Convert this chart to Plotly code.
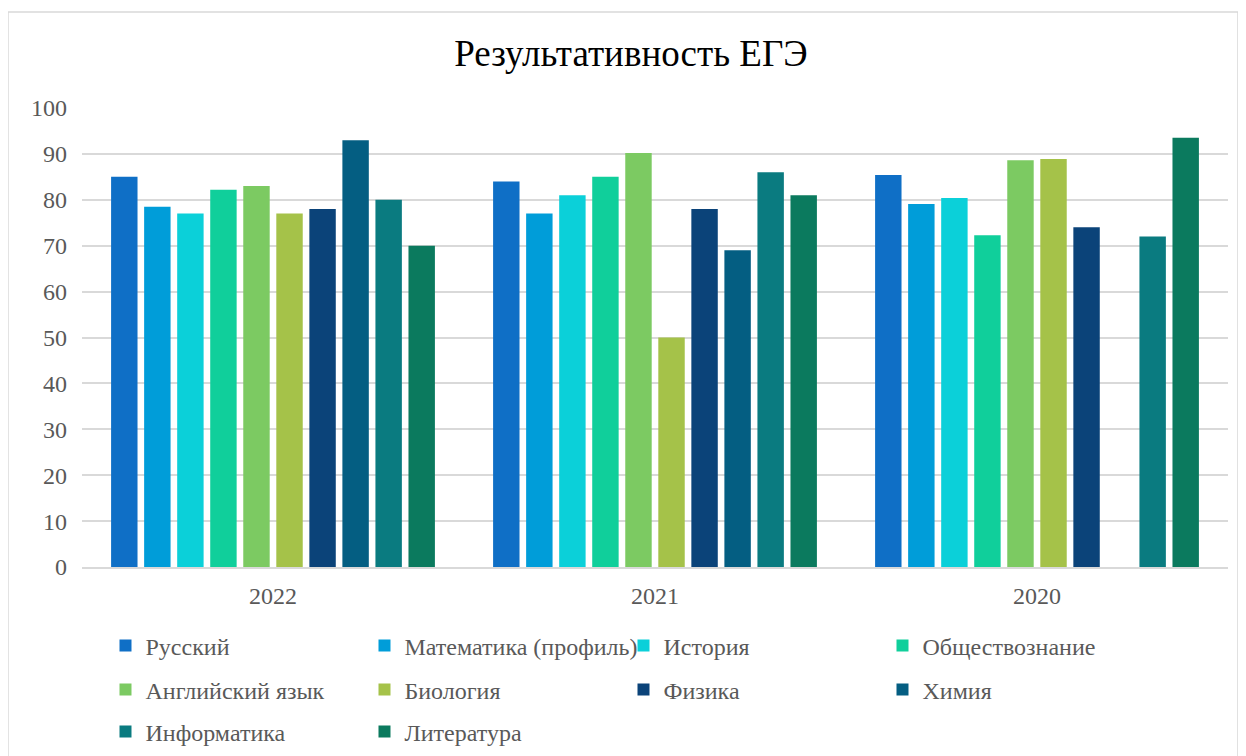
import plotly.graph_objects as go

years = ["2022", "2021", "2020"]
subjects = ["Русский", "Математика (профиль)", "История", "Обществознание",
            "Английский язык", "Биология", "Физика", "Химия",
            "Информатика", "Литература"]

russian = [85, 84, 85.4]
math_profile = [78.5, 77, 79.1]
history = [77, 81, 80.4]
social = [82.2, 85, 72.3]
english = [83, 90.2, 88.6]
biology = [77, 50, 88.9]
physics = [78, 78, 74]
chemistry = [93, 69, None]
informatics = [80, 86, 72]
literature = [70, 81, 93.5]

series = [russian, math_profile, history, social, english,
          biology, physics, chemistry, informatics, literature]

colors = ["#0F6FC6", "#009DD9", "#0BD0D9", "#10CF9B", "#7CCA62",
          "#A5C249", "#0B4379", "#045E82", "#0A7B80", "#0B7A5E"]

FONT = "Liberation Serif"
legend_rows = ["legend", "legend2", "legend3"]

fig = go.Figure()
for i, (name, vals, col) in enumerate(zip(subjects, series, colors)):
    fig.add_trace(go.Bar(x=years, y=vals, name=name, legend=legend_rows[i // 4],
                         marker=dict(color=col, line=dict(width=0))))

# one horizontal legend per row, like the Excel legend grid
leg = dict(orientation="h", x=0.0205, xanchor="left", yanchor="middle",
           entrywidth=214, entrywidthmode="pixels", itemwidth=30,
           font=dict(family=FONT, size=24, color="#595959"),
           bgcolor="rgba(0,0,0,0)", traceorder="normal")

fig.update_layout(
    width=1246, height=756,
    template="plotly_white",
    paper_bgcolor="white", plot_bgcolor="white",
    font=dict(family=FONT, color="#595959", size=24),
    title=dict(text="Результативность ЕГЭ", x=0.5, xanchor="center",
               y=0.94, yanchor="middle",
               font=dict(family=FONT, size=37, color="black")),
    barmode="group", bargap=0.135, bargroupgap=0.2,
    margin=dict(l=74, r=26, t=100, b=197, autoexpand=False),
    legend=dict(leg, y=-0.172),
    legend2=dict(leg, y=-0.268),
    legend3=dict(leg, y=-0.359),
    shapes=[dict(type="rect", xref="paper", yref="paper",
                 x0=-0.0646, x1=1.0087, y0=-0.5, y1=1.209,
                 line=dict(color="#D9D9D9", width=1.5))],
)
fig.update_yaxes(range=[0, 100], dtick=10, showgrid=True, gridcolor="#D9D9D9",
                 gridwidth=1.5, zeroline=False, showline=False, ticks="",
                 automargin=False, ticklabelstandoff=14,
                 tickfont=dict(family=FONT, size=24, color="#595959"))
fig.update_xaxes(showline=True, linecolor="#D9D9D9", linewidth=1.5, ticks="",
                 automargin=False, ticklabelstandoff=6,
                 tickfont=dict(family=FONT, size=24, color="#595959"))

fig.write_html("out.html")
